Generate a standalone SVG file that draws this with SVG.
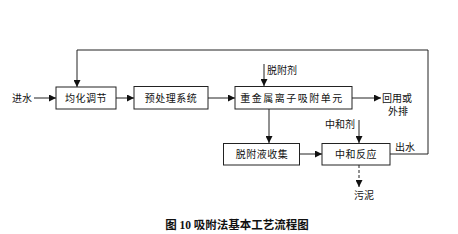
<svg xmlns="http://www.w3.org/2000/svg" width="458" height="234" viewBox="0 0 458 234">
<style>
.box{fill:#fff;stroke:#222;stroke-width:1}
.ln{fill:none;stroke:#222;stroke-width:1}
.t{font-family:"Liberation Serif","Noto Sans CJK SC",serif;font-size:10px;fill:#111;text-anchor:middle;dominant-baseline:central}
.cap{font-family:"Liberation Serif","Noto Sans CJK SC",serif;font-size:11.5px;font-weight:bold;fill:#111;text-anchor:middle;dominant-baseline:central}
</style>
<defs>
<marker id="ah" viewBox="0 0 10 10" refX="10" refY="5" markerWidth="7" markerHeight="7" markerUnits="userSpaceOnUse" orient="auto">
<path d="M0,0 L10,5 L0,10 z" fill="#111"/>
</marker>
</defs>
<rect width="458" height="234" fill="#fff"/>
<g id="connectors">
<line class="ln" x1="34" y1="98" x2="56" y2="98" marker-end="url(#ah)"/>
<line class="ln" x1="116" y1="98" x2="134" y2="98" marker-end="url(#ah)"/>
<line class="ln" x1="208" y1="98" x2="235" y2="98" marker-end="url(#ah)"/>
<line class="ln" x1="352" y1="98" x2="381" y2="98" marker-end="url(#ah)"/>
<line class="ln" x1="264" y1="64" x2="264" y2="86" marker-end="url(#ah)"/>
<line class="ln" x1="269" y1="109" x2="269" y2="143" marker-end="url(#ah)"/>
<line class="ln" x1="300" y1="154" x2="322" y2="154" marker-end="url(#ah)"/>
<line class="ln" x1="359" y1="120" x2="359" y2="143" marker-end="url(#ah)"/>
<line class="ln" x1="359" y1="165" x2="359" y2="187" stroke-dasharray="3,2" marker-end="url(#ah)"/>
<polyline class="ln" points="390,154 428,154 428,50 77,50 77,87" marker-end="url(#ah)"/>
</g>
<g id="n-in"><text class="t" x="22" y="98">进水</text></g>
<g id="n1"><rect class="box" x="56" y="87" width="60" height="22"/><text class="t" x="86" y="98" letter-spacing="0.5">均化调节</text></g>
<g id="n2"><rect class="box" x="134" y="86.5" width="74" height="22.5"/><text class="t" x="171" y="98" letter-spacing="0.5">预处理系统</text></g>
<g id="n3"><rect class="box" x="235" y="86.5" width="117" height="22.5"/><text class="t" x="292" y="98" letter-spacing="1.5">重金属离子吸附单元</text></g>
<g id="n-agent"><text class="t" x="282" y="70">脱附剂</text></g>
<g id="n-reuse"><text class="t" x="397" y="98.5">回用或</text><text class="t" x="398" y="111">外排</text></g>
<g id="n4"><rect class="box" x="223.5" y="143.5" width="76" height="21.5"/><text class="t" x="262" y="154" letter-spacing="0.5">脱附液收集</text></g>
<g id="n5"><rect class="box" x="322" y="143.5" width="68" height="21.5"/><text class="t" x="356" y="154" letter-spacing="0.5">中和反应</text></g>
<g id="n-neut"><text class="t" x="340" y="124">中和剂</text></g>
<g id="n-out"><text class="t" x="405" y="147">出水</text></g>
<g id="n-sludge"><text class="t" x="364" y="195">污泥</text></g>
<g id="caption"><text class="cap" x="237" y="225">图 10 吸附法基本工艺流程图</text></g>
</svg>
